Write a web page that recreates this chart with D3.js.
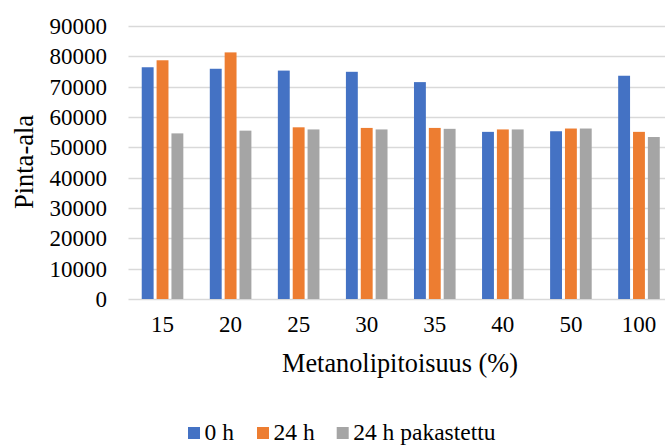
<!DOCTYPE html>
<html>
<head>
<meta charset="utf-8">
<script src="https://cdn.jsdelivr.net/npm/d3@7"></script>
<style>
  body { margin: 0; background: #fff; }
  text { font-family: "Liberation Serif", "Times New Roman", Times, serif; }
</style>
</head>
<body>
<svg id="chart" width="665" height="446"></svg>
<script>
// data
const categories = ["15", "20", "25", "30", "35", "40", "50", "100"];
const seriesNames = ["0 h", "24 h", "24 h pakastettu"];
const values0h = [76400, 75900, 75300, 74900, 71500, 55100, 55300, 73600];
const values24h = [78700, 81300, 56600, 56400, 56400, 55900, 56200, 55100];
const values24hFrozen = [54600, 55500, 55900, 55900, 56100, 55900, 56200, 53400];
const yTicks = [0, 10000, 20000, 30000, 40000, 50000, 60000, 70000, 80000, 90000];

const colors = ["#4472C4", "#ED7D31", "#A5A5A5"];
const allValues = [values0h, values24h, values24hFrozen];
const serif = "'Liberation Serif', 'Times New Roman', serif";

const svg = d3.select("#chart");

const plot = { left: 128.5, right: 673, top: 26, bottom: 299 };

const x0 = d3.scaleBand().
domain(categories).
range([plot.left, plot.right]).
padding(0);

const groupWidth = 41.6;
const x1 = d3.scaleBand().
domain(d3.range(seriesNames.length)).
range([0, groupWidth]).
paddingInner(0.2).
paddingOuter(0);

const y = d3.scaleLinear().
domain([0, 90000]).
range([plot.bottom, plot.top]);

// gridlines
svg.append("g").
attr("class", "grid").
selectAll("line").
data(yTicks).
join("line").
attr("x1", plot.left).
attr("x2", plot.right).
attr("y1", d => Math.round(y(d)) + 0.5).
attr("y2", d => Math.round(y(d)) + 0.5).
attr("stroke", "#D9D9D9").
attr("stroke-width", 1.3);

// y tick labels
svg.append("g").
selectAll("text").
data(yTicks).
join("text").
attr("x", 107).
attr("y", d => y(d)).
attr("dy", "0.35em").
attr("text-anchor", "end").
attr("font-family", serif).
attr("font-size", 23).
attr("fill", "#000").
text(d => d);

// bars
const groups = svg.append("g").
selectAll("g").
data(categories).
join("g").
attr("transform", c => `translate(${x0(c) + (x0.bandwidth() - groupWidth) / 2},0)`);

groups.selectAll("rect").
data((c, i) => allValues.map((vals, s) => ({ s, v: vals[i] }))).
join("rect").
attr("x", d => x1(d.s)).
attr("width", x1.bandwidth()).
attr("y", d => y(d.v)).
attr("height", d => y(0) - y(d.v)).
attr("fill", d => colors[d.s]);

// x tick labels
svg.append("g").
selectAll("text").
data(categories).
join("text").
attr("x", c => x0(c) + x0.bandwidth() / 2).
attr("y", 332).
attr("text-anchor", "middle").
attr("font-family", serif).
attr("font-size", 23).
attr("fill", "#000").
text(c => c);

// axis titles
svg.append("text").
attr("x", 400).
attr("y", 372).
attr("text-anchor", "middle").
attr("font-family", serif).
attr("font-size", 26.3).
attr("fill", "#000").
text("Metanolipitoisuus (%)");

svg.append("text").
attr("transform", "translate(33,162) rotate(-90)").
attr("text-anchor", "middle").
attr("font-family", serif).
attr("font-size", 26.5).
attr("fill", "#000").
text("Pinta-ala");

// legend
const legendX = [188, 257, 336.7];
const legend = svg.append("g").
selectAll("g").
data(seriesNames).
join("g").
attr("transform", (d, i) => `translate(${legendX[i]},427)`);

legend.append("rect").
attr("width", 12).
attr("height", 12).
attr("fill", (d, i) => colors[i]);

legend.append("text").
attr("x", 16.5).
attr("y", 12.8).
attr("font-family", serif).
attr("font-size", 23.5).
attr("fill", "#000").
text(d => d);
</script>
</body>
</html>
